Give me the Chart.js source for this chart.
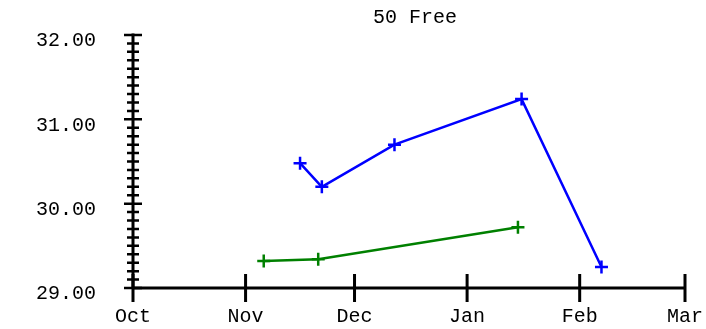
<!DOCTYPE html>
<html>
<head>
<meta charset="utf-8">
<script src="https://cdn.jsdelivr.net/npm/chart.js@4/dist/chart.umd.min.js"></script>
<style>
  html, body { margin: 0; padding: 0; background: #fff; }
  canvas { display: block; }
</style>
</head>
<body>
<canvas id="swimChart" width="706" height="329"></canvas>
<script>
// data
const chartTitle = "50 Free";
const monthLabels = ["Oct", "Nov", "Dec", "Jan", "Feb", "Mar"];
const monthStarts = ["2023-10-01", "2023-11-01", "2023-12-01", "2024-01-01", "2024-02-01", "2024-03-01"];
const yTickValues = [29, 30, 31, 32];

const blueDates = ["2023-11-16", "2023-11-22", "2023-12-12", "2024-01-16", "2024-02-07"];
const blueTimes = [30.48, 30.20, 30.70, 31.24, 29.25];
const greenDates = ["2023-11-06", "2023-11-21", "2024-01-15"];
const greenTimes = [29.32, 29.34, 29.72];

const FONT = "'Liberation Mono', 'DejaVu Sans Mono', monospace";
const origin = Date.parse(monthStarts[0]);
const dayOf = s => (Date.parse(s) - origin) / 86400000;
const monthDays = monthStarts.map(dayOf);

const toPoints = (dates, vals) => dates.map((d, i) => ({ x: dayOf(d), y: vals[i] }));

// no extra room for overhanging labels, the layout is fixed
const noPad = s => { s.paddingTop = 0; s.paddingBottom = 0; s.paddingLeft = 0; s.paddingRight = 0; };

// axis lines + tick marks that cross the axis, drawn off the chart's scales
const axesPlugin = {
    id: "crossTicks",
    beforeDatasetsDraw(chart) {
        const { ctx, chartArea, scales } = chart;
        const xs = scales.x, ys = scales.y;
        const left = chartArea.left, bottom = chartArea.bottom;
        ctx.save();
        ctx.strokeStyle = "#000";
        ctx.lineCap = "butt";
        ctx.lineWidth = 3;
        ctx.beginPath();
        ctx.moveTo(left, ys.getPixelForValue(32) - 1.5);
        ctx.lineTo(left, bottom);
        ctx.moveTo(left, bottom);
        ctx.lineTo(xs.getPixelForValue(monthDays[monthDays.length - 1]), bottom);
        ctx.stroke();

        ctx.lineWidth = 2.5;
        ctx.beginPath();
        for (let i = 0; i <= 30; i++) {
            const y = ys.getPixelForValue(29 + i / 10);
            const half = i % 10 === 0 ? 9 : 6;
            ctx.moveTo(left - half, y);
            ctx.lineTo(left + half, y);
        }
        ctx.stroke();

        ctx.lineWidth = 3;
        ctx.beginPath();
        monthDays.forEach(d => {
            const x = xs.getPixelForValue(d);
            ctx.moveTo(x, bottom - 14);
            ctx.lineTo(x, bottom + 14);
        });
        ctx.stroke();

        ctx.fillStyle = "#000";
        ctx.font = "20px " + FONT;
        ctx.textAlign = "center";
        ctx.textBaseline = "alphabetic";
        ctx.fillText(chartTitle, (chartArea.left + chartArea.right) / 2 + 6, 23);
        ctx.restore();
    }
};

new Chart(document.getElementById("swimChart"), {
    type: "line",
    data: {
        datasets: [
            {
                data: toPoints(blueDates, blueTimes),
                borderColor: "#0000ff",
                backgroundColor: "#0000ff",
                borderWidth: 2.5,
                pointStyle: "cross",
                pointRadius: 6.5,
                pointBorderWidth: 2.5,
                tension: 0,
                clip: false,
            },
            {
                data: toPoints(greenDates, greenTimes),
                borderColor: "#008000",
                backgroundColor: "#008000",
                borderWidth: 2.5,
                pointStyle: "cross",
                pointRadius: 6.5,
                pointBorderWidth: 2.5,
                tension: 0,
                clip: false,
            },
        ],
    },
    options: {
        responsive: false,
        animation: false,
        devicePixelRatio: 1,
        layout: { padding: { top: 35, right: 21, left: 0, bottom: 0 } },
        plugins: {
            legend: { display: false },
            tooltip: { enabled: false },
            title: { display: false },
        },
        scales: {
            x: {
                type: "linear",
                min: monthDays[0],
                max: monthDays[monthDays.length - 1],
                afterBuildTicks: s => { s.ticks = monthDays.map(v => ({ value: v })); },
                afterFit: s => { s.height = 41; noPad(s); },
                grid: { display: false, drawTicks: false },
                border: { display: false },
                ticks: {
                    autoSkip: false,
                    maxRotation: 0,
                    padding: 17,
                    color: "#000",
                    font: { family: FONT, size: 20 },
                    callback: v => monthLabels[monthDays.indexOf(v)],
                },
            },
            y: {
                min: 29,
                max: 32,
                afterBuildTicks: s => { s.ticks = yTickValues.map(v => ({ value: v })); },
                afterFit: s => { s.width = 133; noPad(s); },
                grid: { display: false, drawTicks: false },
                border: { display: false },
                ticks: {
                    padding: 37,
                    labelOffset: 6,
                    color: "#000",
                    font: { family: FONT, size: 20 },
                    callback: v => v.toFixed(2),
                },
            },
        },
    },
    plugins: [axesPlugin],
});
</script>
</body>
</html>
